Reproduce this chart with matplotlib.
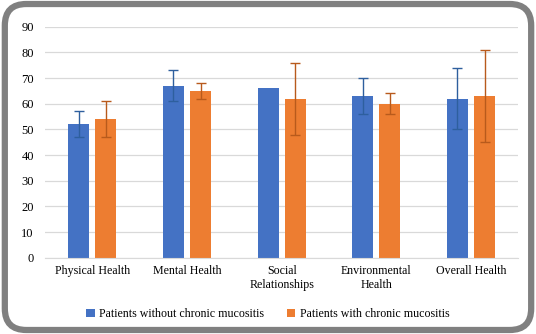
import numpy as np
import matplotlib.pyplot as plt
from matplotlib.patches import FancyBboxPatch

categories = ['Physical Health', 'Mental Health', 'Social\nRelationships',
              'Environmental\nHealth', 'Overall Health']
without_mean = [52, 67, 66, 63, 62]
without_err = [5, 6, np.nan, 7, 12]
with_mean = [54, 65, 62, 60, 63]
with_err = [7, 3, 14, 4, 18]
series_names = ['Patients without chronic mucositis', 'Patients with chronic mucositis']

plt.rcParams['font.family'] = 'serif'
plt.rcParams['font.serif'] = ['Liberation Serif', 'Times New Roman', 'DejaVu Serif']

fig = plt.figure(figsize=(5.36, 3.34), dpi=100)
ax = fig.add_axes([0.084, 0.228, 0.883, 0.692])

x = np.arange(len(categories))
w = 0.22
off = 0.143
ax.bar(x - off, without_mean, w, color='#4472C4', label=series_names[0], zorder=2)
ax.bar(x + off, with_mean, w, color='#ED7D31', label=series_names[1], zorder=2)
ax.errorbar(x - off, without_mean, yerr=without_err, fmt='none', ecolor='#2E5F9E',
            elinewidth=1, capsize=3.5, capthick=1, zorder=3)
ax.errorbar(x + off, with_mean, yerr=with_err, fmt='none', ecolor='#B85A1C',
            elinewidth=1, capsize=3.5, capthick=1, zorder=3)

ax.set_ylim(0, 90)
ax.set_yticks(range(0, 91, 10))
ax.set_xlim(-0.5, len(categories) - 0.5)
ax.set_xticks(x)
ax.set_xticklabels(categories, fontsize=8.6)
ax.tick_params(axis='y', labelsize=9, length=0, pad=8)
ax.tick_params(axis='x', length=0, pad=5)
ax.yaxis.grid(True, color='#D9D9D9', linewidth=0.9, zorder=0)
for s in ['top', 'right', 'left']:
    ax.spines[s].set_visible(False)
ax.spines['bottom'].set_color('#D9D9D9')

fig.legend(loc='lower center', bbox_to_anchor=(0.5, 0.01), ncol=2, frameon=False,
           fontsize=8.6, handlelength=0.7, handleheight=0.7, handletextpad=0.4,
           columnspacing=1.9)

border = FancyBboxPatch((0.009, 0.012), 0.982, 0.976,
                        boxstyle='round,pad=0,rounding_size=0.04',
                        transform=fig.transFigure, fill=False,
                        edgecolor='#808080', linewidth=4.5, mutation_aspect=536/334)
fig.patches.append(border)

fig.savefig('out.png', dpi=100)
